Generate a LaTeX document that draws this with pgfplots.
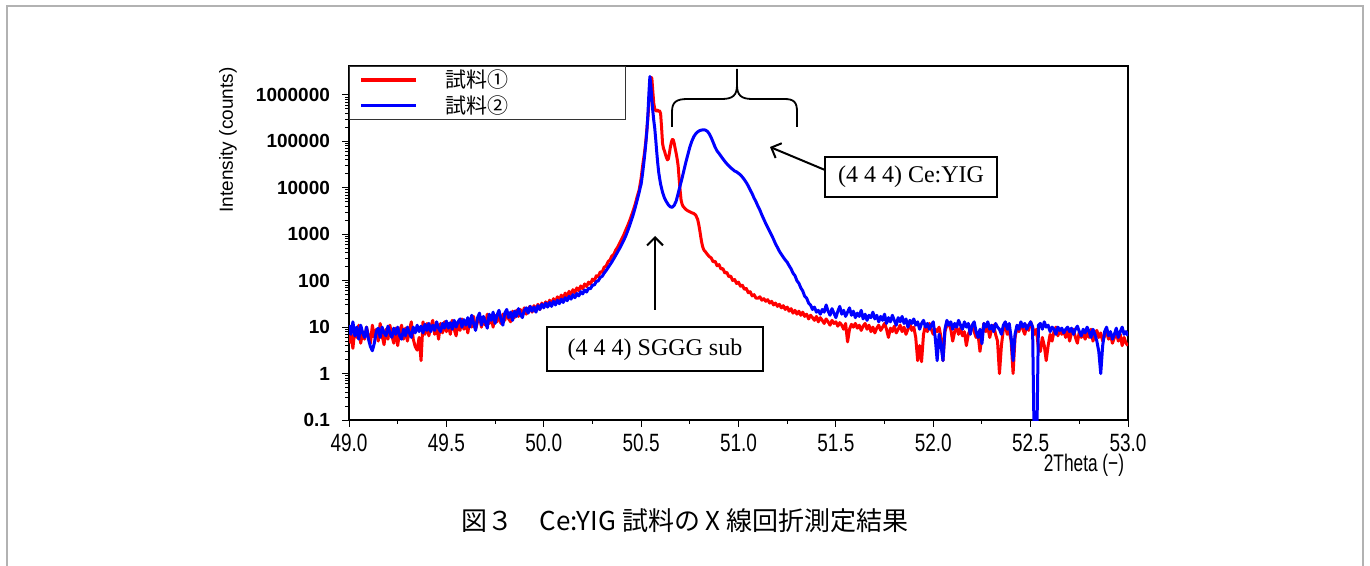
\documentclass[border=0pt]{standalone}
\usepackage{fontspec}
\setmainfont{Liberation Sans}
\newfontfamily\timesf{Liberation Serif}
\newfontfamily\jp{Noto Sans CJK JP}
\usepackage{graphicx}
\usepackage{pgfplots}
\pgfplotsset{compat=1.18}
\usetikzlibrary{arrows.meta}
\definecolor{rd}{RGB}{255,0,0}
\definecolor{bl}{RGB}{0,0,255}
\newcommand{\cx}[1]{\scalebox{0.76}[1]{#1}}
\begin{document}
\begin{tikzpicture}
\useasboundingbox (0,0) rectangle (685pt,-283pt);
\draw[gray!60, line width=0.6pt] (3.5pt,-300pt) -- (3.5pt,-3pt) -- (681.5pt,-3pt) -- (681.5pt,-300pt);
\begin{axis}[
  at={(174.5pt,-210pt)}, anchor=south west,
  scale only axis, width=389.5pt, height=177pt,
  xmin=49, xmax=53, ymode=log, ymin=0.1, ymax=4200000,
  xtick={49,49.5,50,50.5,51,51.5,52,52.5,53},
  xticklabels={\cx{49.0},\cx{49.5},\cx{50.0},\cx{50.5},\cx{51.0},\cx{51.5},\cx{52.0},\cx{52.5},\cx{53.0}},
  minor x tick num=1,
  ytickten={-1,0,1,2,3,4,5,6},
  yticklabels={0.1,1,10,100,1000,10000,100000,1000000},
  xticklabel style={font=\fontsize{12.5}{14}\selectfont},
  yticklabel style={font=\fontsize{9.5}{11}\selectfont\bfseries, xshift=-2.5pt},
  tick align=outside, xtick pos=bottom, ytick pos=left,
  major tick length=3.5pt, minor tick length=2pt,
  tick style={black, line width=0.5pt},
  axis line style={black, line width=0.6pt},
  ylabel={Intensity (counts)},
  ylabel style={at={(rel axis cs:-0.1553,0.791)}, anchor=center, font=\fontsize{9.5}{11}\selectfont},
  xlabel={\scalebox{0.72}[1]{2Theta (−)}},
  xlabel style={at={(rel axis cs:0.9435,-0.127)}, anchor=center, font=\fontsize{12}{14}\selectfont},
  legend style={at={(rel axis cs:0,1)}, anchor=north west, draw=black!80, line width=0.6pt,
    font=\jp\fontsize{10.5}{11}\selectfont, inner xsep=5pt, inner ysep=1pt, row sep=1.5pt,
    nodes={inner ysep=0.5pt, inner xsep=3pt},
    /tikz/every odd column/.append style={column sep=11pt}, fill=white},
  legend image code/.code={\draw[#1, line width=1.6pt] (0pt,0pt) -- (27.5pt,0pt);},
  legend cell align=left,
]
\addplot[rd, line width=1.5pt, line join=round] coordinates {
(49.00,4.5)(49.01,7)(49.02,3.5)(49.03,9)(49.04,6)(49.05,11)(49.06,4.5)(49.07,8)(49.08,5.5)(49.09,10)
(49.10,6.5)(49.11,4.5)(49.12,11)(49.13,6)(49.14,9)(49.15,5)(49.16,12)(49.17,6.5)(49.18,4.2)(49.19,9)
(49.20,5.5)(49.21,11)(49.22,6.5)(49.23,4.5)(49.24,9.5)(49.25,4)(49.26,8)(49.27,11)(49.28,5.5)(49.29,9.5)
(49.30,5)(49.31,8.5)(49.32,13)(49.33,5.5)(49.34,3.8)(49.35,3.2)(49.36,6)(49.37,1.9)(49.38,13)(49.39,7)
(49.40,12)(49.41,6.5)(49.42,10)(49.43,14)(49.44,7)(49.45,11)(49.46,5.5)(49.47,12)(49.48,7.5)(49.49,13)
(49.50,8)(49.51,12)(49.52,7)(49.53,14)(49.54,9)(49.55,6.5)(49.56,13)(49.57,8.5)(49.58,15)(49.59,9)
(49.60,13)(49.61,7.5)(49.62,14)(49.63,10)(49.64,17)(49.65,9)(49.66,13)(49.67,18)(49.68,10)(49.69,15)
(49.70,11)(49.71,19)(49.72,12)(49.73,16)(49.74,10)(49.75,18)(49.76,13)(49.77,20)(49.78,12)(49.79,19)
(49.80,14)(49.81,21)(49.82,15)(49.83,13)(49.84,22)(49.85,16)(49.86,23)(49.87,17)(49.88,24)(49.89,18)
(49.90,26)(49.91,19)(49.92,25)(49.93,28)(49.94,21)(49.95,29)(49.96,23)(49.97,31)(49.98,24)(49.99,33)
(50.00,27)(50.01,35)(50.02,28)(50.03,38)(50.04,31)(50.05,41)(50.06,34)(50.07,45)(50.08,37)(50.09,49)
(50.10,41)(50.11,54)(50.12,45)(50.13,59)(50.14,50)(50.15,64)(50.16,55)(50.17,70)(50.18,61)(50.19,77)
(50.20,67)(50.21,85)(50.22,75)(50.23,93)(50.24,84)(50.25,108)(50.26,100)(50.27,128)(50.28,122)(50.29,155)
(50.30,152)(50.31,195)(50.32,205)(50.33,255)(50.34,280)(50.35,340)(50.36,370)(50.37,460)(50.38,530)(50.39,650)
(50.40,780)(50.41,950)(50.42,1200)(50.43,1500)(50.44,1900)(50.45,2500)(50.46,3300)(50.47,4500)(50.48,6500)(50.49,9000)
(50.495,12000)(50.50,16000)(50.505,24000)(50.51,35000)(50.515,48000)(50.52,70000)(50.525,110000)(50.53,190000)
(50.535,330000)(50.54,650000)(50.545,1300000)(50.55,2400000)(50.555,2300000)(50.56,1200000)(50.565,650000)
(50.57,500000)(50.575,460000)(50.58,450000)(50.585,470000)(50.59,440000)(50.595,450000)(50.60,400000)
(50.605,200000)(50.61,90000)(50.615,70000)(50.62,62000)(50.625,52000)(50.63,45000)(50.635,40000)(50.64,42000)
(50.645,55000)(50.65,75000)(50.655,95000)(50.66,110000)(50.665,108000)(50.67,90000)(50.675,70000)(50.68,55000)
(50.685,42000)(50.69,30000)(50.695,16000)(50.70,9000)(50.705,5500)(50.71,4500)(50.715,4000)(50.72,3800)
(50.725,3600)(50.73,3400)(50.74,3200)(50.75,3050)(50.76,2900)(50.77,2800)(50.78,2600)(50.79,2100)(50.795,1700)
(50.80,1300)(50.805,950)(50.81,700)(50.815,560)(50.82,480)(50.825,440)(50.83,420)(50.84,370)(50.85,330)
(50.86,310)(50.87,255)(50.88,262)(50.89,210)(50.90,222)(50.91,178)(50.92,182)(50.93,146)(50.94,152)(50.95,122)
(50.96,126)(50.97,101)(50.98,106)(50.99,87)(51.00,93)(51.01,76)(51.02,80)(51.03,65)(51.04,68)(51.05,55)
(51.06,58)(51.07,47)(51.08,50)(51.09,42)
(51.10,42)(51.11,45)(51.12,38)(51.13,41)(51.14,36)(51.15,39)(51.16,33)(51.17,36)(51.18,30)(51.19,33)
(51.20,28)(51.21,31)(51.22,26)(51.23,29)(51.24,24)(51.25,27)(51.26,22)(51.27,25)(51.28,20)(51.29,23)
(51.30,19)(51.31,22)(51.32,18)(51.33,21)(51.34,17)(51.35,19)(51.36,15)(51.37,18)(51.38,16)(51.39,14)
(51.40,17)(51.41,13)(51.42,16)(51.43,14)(51.44,12)(51.45,15)(51.46,13)(51.47,11)(51.48,14)(51.49,12)
(51.50,13)(51.51,10.5)(51.52,12.5)(51.53,11)(51.54,9)(51.55,12)(51.56,4.8)(51.57,9)(51.58,11.5)(51.59,10)
(51.60,12)(51.61,9.5)(51.62,11)(51.63,8.5)(51.64,10.5)(51.65,12)(51.66,9)(51.67,11)(51.68,8)(51.69,10)
(51.70,7.5)(51.71,9.5)(51.72,11)(51.73,8.5)(51.74,10)(51.75,12)(51.76,9)(51.77,6)(51.78,9.5)(51.79,8)
(51.80,10.5)(51.81,7.5)(51.82,9)(51.83,11)(51.84,8)(51.85,10)(51.86,7)(51.87,9)(51.88,12)(51.89,8.5)
(51.90,10)(51.91,6)(51.92,1.9)(51.93,4)(51.94,1.8)(51.95,7)(51.96,11)(51.97,8)(51.98,12)(51.99,9)
(52.00,7)(52.01,9)(52.02,8)(52.03,10)(52.04,6)(52.05,1.9)(52.06,8)(52.07,11)(52.08,12)(52.09,9)
(52.10,5)(52.11,8)(52.12,10)(52.13,7)(52.14,9.5)(52.15,6.5)(52.16,8)(52.17,4)(52.18,7)(52.19,9)
(52.20,11)(52.21,8)(52.22,6)(52.23,7)(52.24,3)(52.25,6.5)(52.26,12)(52.27,8)(52.28,10)(52.29,6)
(52.30,9)(52.31,11)(52.32,7)(52.33,5)(52.34,1)(52.35,4)(52.36,9)(52.37,11)(52.38,7)(52.39,8.5)
(52.40,5)(52.41,1)(52.42,6)(52.43,10)(52.44,8)(52.45,12)(52.46,9)(52.47,7)(52.48,11)(52.49,8.5)
(52.50,13)(52.51,10)(52.52,7)(52.53,9)(52.54,3.5)(52.55,3)(52.56,6)(52.57,4)(52.58,1.9)(52.59,4)
(52.60,7)(52.61,5)(52.62,8)(52.63,10)(52.64,6.5)(52.65,9)(52.66,7)(52.67,8.5)(52.68,6)(52.69,9)
(52.70,5)(52.71,7.5)(52.72,9)(52.73,6)(52.74,4.5)(52.75,8)(52.76,6)(52.77,7.5)(52.78,5.5)(52.79,8)
(52.80,6)(52.81,9)(52.82,5)(52.83,7)(52.84,8.5)(52.85,6)(52.86,7.5)(52.87,5)(52.88,6.5)(52.89,8)
(52.90,5.5)(52.91,7)(52.92,4.5)(52.93,6)(52.94,8)(52.95,5)(52.96,7)(52.97,4)(52.98,6)(52.99,4.5)(53.00,4)
};
\addlegendentry{\makebox[82pt][l]{試料①}}
\addplot[bl, line width=1.5pt, line join=round] coordinates {
(49.00,11)(49.01,7)(49.02,13)(49.03,6.5)(49.04,10)(49.05,5.5)(49.06,11)(49.07,7.5)(49.08,6)(49.09,10)
(49.10,5.5)(49.11,3.8)(49.12,3.1)(49.13,4.5)(49.14,8)(49.15,9.5)(49.16,6)(49.17,10)(49.18,7.5)(49.19,6.5)
(49.20,10.5)(49.21,7.5)(49.22,6)(49.23,9.5)(49.24,7)(49.25,10)(49.26,6.5)(49.27,5.5)(49.28,9)(49.29,6.5)
(49.30,10)(49.31,7.5)(49.32,6)(49.33,10)(49.34,7.5)(49.35,11)(49.36,8)(49.37,10.5)(49.38,7.5)(49.39,11.5)
(49.40,8.5)(49.41,12)(49.42,8)(49.43,11)(49.44,8.5)(49.45,13)(49.46,9.5)(49.47,8)(49.48,12)(49.49,9.5)
(49.50,13.5)(49.51,9.5)(49.52,12.5)(49.53,9)(49.54,14)(49.55,10)(49.56,13)(49.57,15)(49.58,10)(49.59,14.5)
(49.60,11)(49.61,16)(49.62,10)(49.63,18)(49.64,12)(49.65,8.5)(49.66,16)(49.67,20)(49.68,11)(49.69,17)
(49.70,13)(49.71,9.5)(49.72,19)(49.73,14)(49.74,21)(49.75,12)(49.76,18)(49.77,23)(49.78,15)(49.79,11)
(49.80,20)(49.81,24)(49.82,16)(49.83,21)(49.84,14)(49.85,22)(49.86,17)(49.87,25)(49.88,19)(49.89,16)
(49.90,23)(49.91,26)(49.92,20)(49.93,28)(49.94,22)(49.95,27)(49.96,21)(49.97,29)(49.98,24)(49.99,31)
(50.00,26)(50.01,33)(50.02,27)(50.03,34)(50.04,28)(50.05,36)(50.06,30)(50.07,38)(50.08,32)(50.09,40)
(50.10,34)(50.11,43)(50.12,37)(50.13,46)(50.14,40)(50.15,50)(50.16,43)(50.17,53)(50.18,47)(50.19,58)
(50.20,52)(50.21,63)(50.22,57)(50.23,69)(50.24,67)(50.25,80)(50.26,81)(50.27,96)(50.28,99)(50.29,118)
(50.30,124)(50.31,145)(50.32,165)(50.33,190)(50.34,220)(50.35,255)(50.36,300)(50.37,355)(50.38,420)(50.39,500)
(50.40,600)(50.41,730)(50.42,900)(50.43,1150)(50.44,1500)(50.45,2000)(50.46,2700)(50.47,3800)(50.48,5500)(50.49,8000)
(50.495,10000)(50.50,12000)(50.505,17000)(50.51,25000)(50.515,38000)(50.52,60000)(50.525,100000)(50.53,180000)
(50.535,400000)(50.54,1100000)(50.545,2500000)(50.55,1600000)(50.555,800000)(50.56,450000)(50.565,280000)
(50.57,190000)(50.575,110000)(50.58,60000)(50.585,35000)(50.59,22000)(50.595,16000)(50.60,12000)
(50.61,8000)(50.62,6000)(50.63,5000)(50.64,4300)(50.65,3900)(50.66,3800)(50.67,4200)(50.68,5200)(50.69,7500)
(50.70,11000)(50.71,16000)(50.72,24000)(50.73,36000)(50.74,52000)(50.75,75000)(50.76,100000)(50.77,125000)
(50.78,145000)(50.79,160000)(50.80,170000)(50.81,175000)(50.82,178000)(50.83,175000)(50.84,165000)(50.85,145000)
(50.86,120000)(50.87,95000)(50.88,75000)(50.89,62000)(50.90,55000)(50.91,48000)(50.92,42000)(50.93,37000)
(50.94,33000)(50.95,30000)(50.96,27000)(50.97,25000)(50.98,23000)(50.99,22000)(51.00,20500)(51.01,19000)
(51.02,17000)(51.03,15000)(51.04,13000)(51.05,11000)(51.06,9000)(51.07,7500)(51.08,6000)(51.09,5000)
(51.10,4000)(51.11,3300)(51.12,2600)(51.13,2100)(51.14,1700)(51.15,1400)(51.16,1150)(51.17,950)(51.18,780)
(51.19,620)(51.20,520)(51.21,430)(51.22,370)(51.23,320)(51.24,280)(51.25,250)(51.26,210)(51.27,180)
(51.28,145)(51.29,128)(51.30,100)(51.31,88)(51.32,70)(51.33,60)(51.34,46)(51.35,42)(51.36,33)(51.37,30)
(51.38,24)(51.39,27)(51.40,21)(51.41,23)(51.42,19)(51.43,24)(51.44,21)(51.45,30)(51.46,22)(51.47,18)
(51.48,25)(51.49,20)(51.50,16)(51.51,22)(51.52,28)(51.53,19)(51.54,23)(51.55,17)(51.56,21)(51.57,26)
(51.58,18)(51.59,22)(51.60,16)(51.61,20)(51.62,17)(51.63,23)(51.64,15)(51.65,19)(51.66,14)(51.67,18)
(51.68,16)(51.69,21)(51.70,15)(51.71,18)(51.72,13)(51.73,17)(51.74,14)(51.75,19)(51.76,12)(51.77,16)
(51.78,13)(51.79,18)(51.80,14)(51.81,11)(51.82,16)(51.83,13)(51.84,17)(51.85,12)(51.86,15)(51.87,10)
(51.88,14)(51.89,12)(51.90,15)(51.91,11)(51.92,13)(51.93,9)(51.94,12)(51.95,14)(51.96,10)(51.97,12)
(51.98,9)(51.99,11)(52.00,13)(52.01,6)(52.02,1.9)(52.03,7)(52.04,4)(52.05,1.9)(52.06,9)(52.07,14)
(52.08,11)(52.09,13)(52.10,9)(52.11,12)(52.12,10)(52.13,14)(52.14,11)(52.15,9)(52.16,13)(52.17,10)
(52.18,12)(52.19,7)(52.20,11)(52.21,13)(52.22,8)(52.23,6)(52.24,9)(52.25,4.4)(52.26,12)(52.27,10)
(52.28,13)(52.29,9)(52.30,11)(52.31,8)(52.32,12)(52.33,10)(52.34,9)(52.35,7)(52.36,11)(52.37,13)
(52.38,9)(52.39,12)(52.40,6)(52.41,1.9)(52.42,7)(52.43,11)(52.44,9)(52.45,13)(52.46,10)(52.47,12)
(52.48,9)(52.49,11)(52.50,13)(52.51,10)(52.52,0.01)(52.53,0.01)(52.54,11)(52.55,12)(52.56,9)(52.57,13)
(52.58,10)(52.59,11)(52.60,8)(52.61,10)(52.62,9)(52.63,7)(52.64,10)(52.65,8.5)(52.66,9.5)(52.67,7.5)
(52.68,9)(52.69,10)(52.70,8)(52.71,9.5)(52.72,7)(52.73,9)(52.74,10.5)(52.75,8)(52.76,6.5)(52.77,9)
(52.78,7.5)(52.79,10)(52.80,8)(52.81,6)(52.82,9)(52.83,7)(52.84,5)(52.85,3)(52.86,1)(52.87,4)
(52.88,8)(52.89,10)(52.90,6.5)(52.91,8)(52.92,5.5)(52.93,7)(52.94,9.5)(52.95,6)(52.96,8)(52.97,10)
(52.98,7)(52.99,8)(53.00,6.5)
};
\addlegendentry{\makebox[80pt][l]{試料②}}
\end{axis}
\begin{scope}[x=0.5pt, y=-0.5pt]
\draw[line width=0.6pt] (547,327) rectangle (763,371);
\node[font=\timesf\fontsize{12}{14}\selectfont] at (655,350) {(4 4 4) SGGG sub};
\draw[line width=0.6pt] (825,157) rectangle (997,197);
\node[font=\timesf\fontsize{12}{14}\selectfont] at (911,177) {(4 4 4) Ce:YIG};
\draw[line width=1pt, -{Straight Barb[length=4pt, width=8pt]}] (655,310) -- (655,236);
\draw[line width=1pt, -{Straight Barb[length=4pt, width=8pt]}] (825,170) -- (770,147);
\draw[line width=0.9pt] (672,127) -- (672,112) .. controls (672,102) and (676,99) .. (688,99) -- (722,99)
  .. controls (733,99) and (737,95) .. (737,85) -- (737,69);
\draw[line width=0.9pt] (737,85) .. controls (737,95) and (741,99) .. (752,99) -- (784,99)
  .. controls (794,99) and (797,102) .. (797,112) -- (797,127);
\node[font=\jp\fontsize{13}{15}\selectfont] at (685,521) {図３\quad Ce:YIG 試料の X 線回折測定結果};
\end{scope}
\end{tikzpicture}
\end{document}
